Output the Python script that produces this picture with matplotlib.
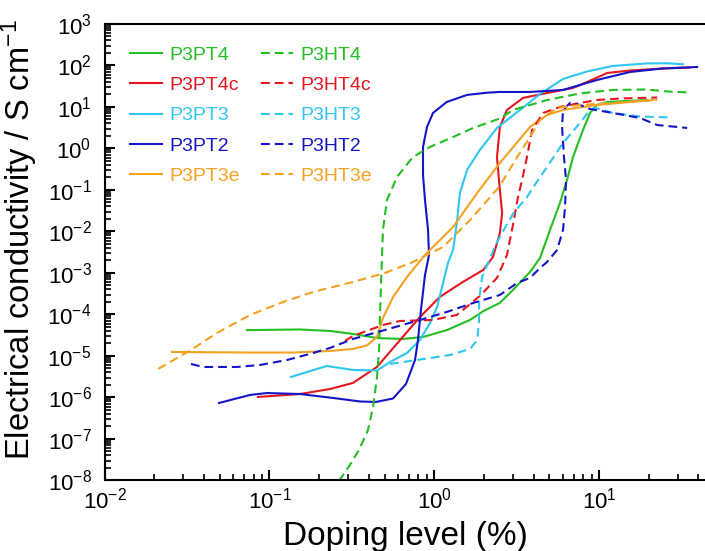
import matplotlib
matplotlib.use('Agg')
import matplotlib.pyplot as plt
import matplotlib.ticker as ticker
import numpy as np

plt.rcParams['font.family'] = ['Liberation Sans', 'DejaVu Sans']
plt.rcParams['mathtext.fontset'] = 'custom'
plt.rcParams['mathtext.rm'] = 'Liberation Sans'
plt.rcParams['mathtext.it'] = 'Liberation Sans:italic'
plt.rcParams['mathtext.bf'] = 'Liberation Sans:bold'

# ======================= DATA (doping %, conductivity S/cm) =======================
P3PT4_X = [0.073, 0.153, 0.233, 0.321, 0.449, 0.646, 0.854, 1.19, 1.65, 1.98, 2.5, 3.0,
           3.81, 4.38, 5.04, 5.79, 6.39, 6.94, 7.99, 8.81, 9.71, 11.2, 19.5]
P3PT4_Y = [4.2e-5, 4.35e-5, 4.0e-5, 3.4e-5, 2.7e-5, 2.57e-5, 2.87e-5, 4.2e-5, 7.4e-5, 1.2e-4,
           1.9e-4, 3.9e-4, 1.06e-3, 2.3e-3, 1.1e-2, 4.9e-2, 0.174, 0.62, 2.8, 7.2, 11.2, 13.2, 14.7]

P3HT4_X = [0.264, 0.304, 0.349, 0.396, 0.425, 0.449, 0.462, 0.468, 0.475, 0.482, 0.488, 0.516,
           0.594, 0.742, 0.942, 1.30, 1.72, 2.5, 3.0, 4.83, 7.66, 12.1, 19.5, 25.8, 34.6]
P3HT4_Y = [9.7e-9, 2.2e-8, 5.4e-8, 1.65e-7, 5.9e-7, 3.1e-6, 1.4e-5, 8.7e-5, 5.7e-4, 2.7e-3,
           1.1e-2, 5.7e-2, 0.206, 0.624, 1.09, 1.89, 3.12, 5.28, 8.47, 14.7, 21.2, 25.7, 26.4,
           23.6, 22.4]

P3PT4c_X = [0.0852, 0.153, 0.233, 0.321, 0.449, 0.62, 0.819, 1.08, 1.49, 1.98, 2.27, 2.5, 2.58,
            2.5, 2.40, 2.5, 2.76, 3.45, 4.83, 6.94, 8.45, 11.2, 15.4, 24.4, 35.6]
P3PT4c_Y = [1.03e-6, 1.21e-6, 1.6e-6, 2.24e-6, 5.43e-6, 2.43e-5, 8.7e-5, 2.64e-4, 6.07e-4,
            1.18e-3, 2.43e-3, 9.2e-3, 2.79e-2, 0.1, 0.624, 3.3, 8.47, 16.5, 21.7, 28.7, 40,
            65.9, 75.8, 84.7, 89.5]

P3HT4c_X = [0.287, 0.321, 0.488, 0.62, 0.982, 1.37, 1.89, 2.40, 2.76, 3.0, 3.22, 3.41, 3.65,
            3.92, 4.57, 5.79, 7.66, 9.71, 13.4, 22.5]
P3HT4c_Y = [2.3e-5, 3.03e-5, 5.58e-5, 6.97e-5, 7.37e-5, 9.73e-5, 2.8e-4, 7.58e-4, 2.72e-3,
            1.43e-2, 6.78e-2, 0.174, 0.624, 2.79, 7.17, 10, 12.5, 14.7, 16, 16.9]

P3PT3_X = [0.135, 0.223, 0.321, 0.449, 0.539, 0.683, 0.819, 0.942, 1.04, 1.13, 1.21, 1.30,
           1.37, 1.43, 1.58, 1.89, 2.40, 3.31, 4.38, 6.04, 8.45, 12.1, 19.5, 25.8, 32.3]
P3PT3_Y = [3.12e-6, 5.74e-6, 4.6e-6, 4.47e-6, 7.17e-6, 1.18e-5, 2.43e-5, 6.24e-5, 1.52e-4,
           5.74e-4, 1.74e-3, 3.58e-3, 1.6e-2, 8.47e-2, 0.303, 0.92, 3.12, 8.47, 20.6, 47.3,
           71.7, 97.3, 112, 113, 107]

P3HT3_X = [0.539, 0.785, 1.04, 1.25, 1.65, 1.82, 1.87, 1.87, 1.95, 2.18, 2.40, 3.0, 3.65, 4.26,
           4.83, 6.04, 7.66, 8.81, 9.44, 12.1, 17.7, 27.7]
P3HT3_Y = [6.42e-6, 8.01e-6, 9.46e-6, 1.06e-5, 1.48e-5, 2.43e-5, 7.37e-5, 2.24e-4, 8.0e-4,
           2.3e-3, 5.58e-3, 2.64e-2, 6.78e-2, 0.174, 0.358, 1.36, 4.12, 8.47, 9.46, 7.17, 5.9, 5.58]

P3PT2_X = [0.0494, 0.0762, 0.0966, 0.153, 0.243, 0.354, 0.443, 0.562, 0.673, 0.764, 0.796, 0.83,
           0.878, 0.929, 0.916, 0.878, 0.854, 0.854, 0.903, 0.982, 1.19, 1.58, 2.09, 2.5, 3.81,
           6.04, 9.71, 15.4, 24.4, 34.2, 39.3]
P3PT2_Y = [7.37e-7, 1.15e-6, 1.28e-6, 1.21e-6, 9.73e-7, 8.01e-7, 7.79e-7, 9.46e-7, 2.11e-6,
           8.01e-6, 2.43e-5, 1.28e-4, 8.95e-4, 2.72e-3, 1.09e-2, 5.74e-2, 0.23, 1.09, 3.3, 7.17,
           13.2, 19.5, 22.1, 23, 23, 25.7, 44.7, 69.7, 84.7, 89.5, 92]

P3HT2_X = [0.0334, 0.0395, 0.0635, 0.0876, 0.128, 0.184, 0.233, 0.321, 0.502, 0.819, 1.19, 1.72,
           2.5, 3.18, 3.81, 4.38, 4.83, 5.56, 6.04, 6.21, 6.30, 6.12, 5.96, 6.04, 6.66, 7.66,
           8.81, 12.1, 17.7, 22.5, 34.2]
P3HT2_Y = [6.42e-6, 5.43e-6, 5.43e-6, 6.07e-6, 8.01e-6, 1.18e-5, 1.56e-5, 2.57e-5, 4.23e-5,
           7.37e-5, 1.15e-4, 1.89e-4, 2.95e-4, 5.74e-4, 7.58e-4, 1.32e-3, 1.84e-3, 3.58e-3,
           1.09e-2, 3.89e-2, 0.174, 0.624, 3.3, 8.47, 12.5, 11.2, 8.95, 7.17, 5.43, 3.68, 3.12]

P3PT3e_X = [0.0256, 0.0762, 0.139, 0.233, 0.321, 0.39, 0.449, 0.488, 0.562, 0.683, 0.878, 1.30,
            1.82, 2.5, 3.81, 4.83, 6.04, 9.71, 21.2]
P3PT3e_Y = [1.25e-5, 1.21e-5, 1.21e-5, 1.32e-5, 1.48e-5, 1.79e-5, 2.87e-5, 8.23e-5, 2.64e-4,
            8.0e-4, 2.72e-3, 1.28e-2, 8.47e-2, 0.447, 3.3, 6.42, 8.47, 11.2, 14.7]

P3HT3e_X = [0.0211, 0.0334, 0.048, 0.0762, 0.121, 0.184, 0.321, 0.502, 0.742, 1.13, 1.65, 2.5,
            3.18, 3.81, 4.38, 5.56, 7.66, 12.1, 22.5]
P3HT3e_Y = [4.86e-6, 1.4e-5, 3.58e-5, 9.73e-5, 2.0e-4, 3.49e-4, 6.07e-4, 1.0e-3, 1.84e-3,
            4.23e-3, 1.89e-2, 0.125, 0.624, 1.89, 4.86, 9.46, 11.2, 12.5, 14.7]

# ========================== STYLE ==========================
GREEN = '#22bf22'
RED = '#e5161e'
CYAN = '#2fc6ef'
BLUE = '#1515c8'
ORANGE = '#f5a122'
LW = 1.5
DASHES = (4.2, 2.4)

SERIES = [
    ('P3PT4', P3PT4_X, P3PT4_Y, GREEN, '-'),
    ('P3PT4c', P3PT4c_X, P3PT4c_Y, RED, '-'),
    ('P3PT3', P3PT3_X, P3PT3_Y, CYAN, '-'),
    ('P3PT2', P3PT2_X, P3PT2_Y, BLUE, '-'),
    ('P3PT3e', P3PT3e_X, P3PT3e_Y, ORANGE, '-'),
    ('P3HT4', P3HT4_X, P3HT4_Y, GREEN, '--'),
    ('P3HT4c', P3HT4c_X, P3HT4c_Y, RED, '--'),
    ('P3HT3', P3HT3_X, P3HT3_Y, CYAN, '--'),
    ('P3HT2', P3HT2_X, P3HT2_Y, BLUE, '--'),
    ('P3HT3e', P3HT3e_X, P3HT3e_Y, ORANGE, '--'),
]

fig = plt.figure(figsize=(7.05, 5.51), dpi=100)
ax = fig.add_axes([0.1485, 0.128, 0.8647, 0.8285])

for label, xs, ys, color, ls in SERIES:
    line, = ax.plot(xs, ys, ls, color=color, linewidth=LW, label=label)
    if ls == '--':
        line.set_dashes(DASHES)

ax.set_xscale('log')
ax.set_yscale('log')
ax.set_xlim(0.01, 50)
ax.set_ylim(1e-8, 1e3)

ax.xaxis.set_major_locator(ticker.LogLocator(base=10, numticks=20))
ax.xaxis.set_minor_locator(ticker.LogLocator(base=10, subs=np.arange(2, 10), numticks=100))
ax.yaxis.set_major_locator(ticker.LogLocator(base=10, numticks=20))
ax.yaxis.set_minor_locator(ticker.LogLocator(base=10, subs=np.arange(2, 10), numticks=100))
ax.xaxis.set_minor_formatter(ticker.NullFormatter())
ax.yaxis.set_minor_formatter(ticker.NullFormatter())

ax.tick_params(which='both', direction='in', top=False, right=False, labelsize=16)
ax.tick_params(which='major', length=7.2, width=1.5)
ax.tick_params(which='minor', length=4, width=1.2)
ax.tick_params(axis='y', which='major', pad=9.5)
ax.tick_params(axis='x', which='major', pad=5)

for side in ['left', 'bottom', 'top']:
    ax.spines[side].set_linewidth(1.5)
ax.spines['right'].set_visible(False)

ax.set_xlabel('Doping level (%)', fontsize=24)
ax.set_ylabel('Electrical conductivity / S cm$^{-1}$', fontsize=23.5)
ax.xaxis.set_label_coords(0.494, -0.088)
ax.yaxis.set_label_coords(-0.106, 0.527)

ax.legend(loc='upper left', bbox_to_anchor=(0.0415, 0.951), ncol=2, frameon=False,
          fontsize=14, handlelength=1.65, handletextpad=0.4, columnspacing=1.05,
          labelspacing=0.65, borderpad=0, borderaxespad=0, labelcolor='linecolor')

fig.savefig('out.png', dpi=100)
